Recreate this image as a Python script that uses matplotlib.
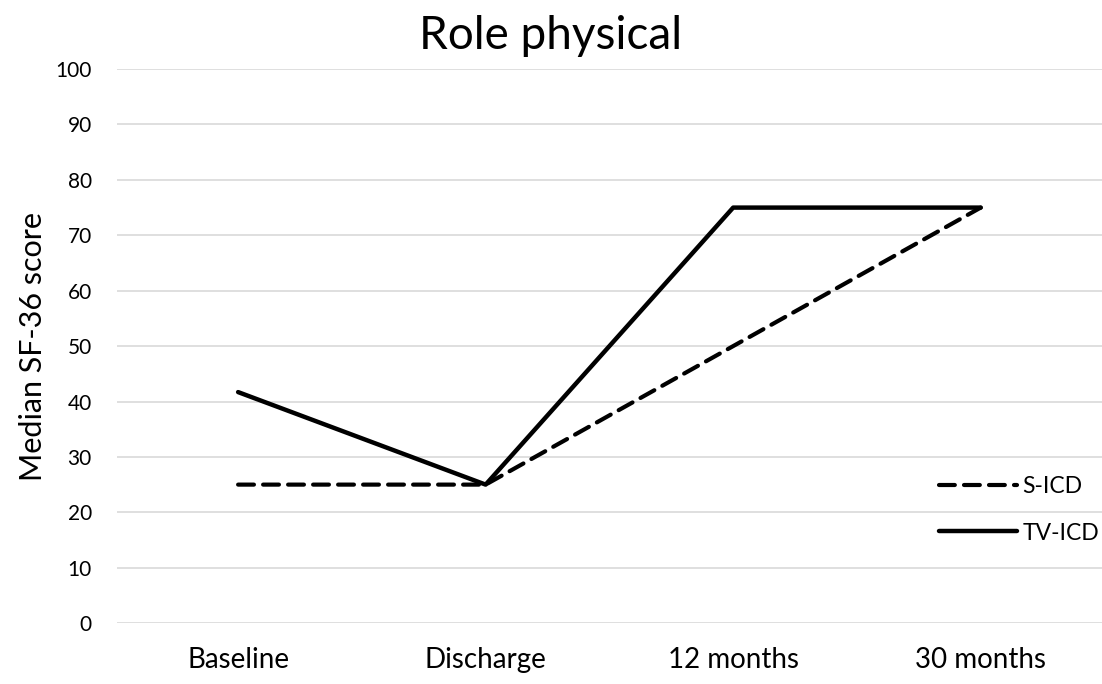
import matplotlib
matplotlib.use("Agg")
import matplotlib.pyplot as plt

plt.rcParams['font.family'] = ['Lato', 'DejaVu Sans']

categories = ['Baseline', 'Discharge', '12 months', '30 months']
s_icd = [25, 25, 50, 75]
tv_icd = [41.7, 25, 75, 75]
yticks = list(range(0, 101, 10))

fig = plt.figure(figsize=(11.02, 6.84), dpi=100)
ax = fig.add_axes([0.106, 0.089, 0.894, 0.810])

x = range(len(categories))
ax.plot(x, s_icd, color='black', lw=3, dashes=(3.8, 2.2), label='S-ICD',
        solid_capstyle='round', dash_capstyle='round')
ax.plot(x, tv_icd, color='black', lw=3.2, label='TV-ICD', solid_capstyle='round')

ax.set_xlim(-0.49, 3.49)
ax.set_ylim(0, 100)
ax.set_yticks(yticks)
ax.set_xticks(list(x))
ax.set_xticklabels(categories, fontsize=20)
ax.tick_params(axis='y', labelsize=15, length=0, pad=18)
ax.tick_params(axis='x', length=0, pad=17)
ax.yaxis.grid(True, color='#d9d9d9', lw=1.2)
ax.set_axisbelow(True)
for s in ax.spines.values():
    s.set_visible(False)

ax.set_ylabel('Median SF-36 score', fontsize=22, labelpad=6)
fig.text(0.5, 0.948, 'Role physical', fontsize=33, ha='center', va='center')

ax.legend(loc='lower right', bbox_to_anchor=(1.009, 0.123), frameon=False,
          fontsize=16.5, handlelength=3.4, labelspacing=1.1, handletextpad=0.25,
          borderaxespad=0.1)

fig.savefig('out.png', dpi=100)
